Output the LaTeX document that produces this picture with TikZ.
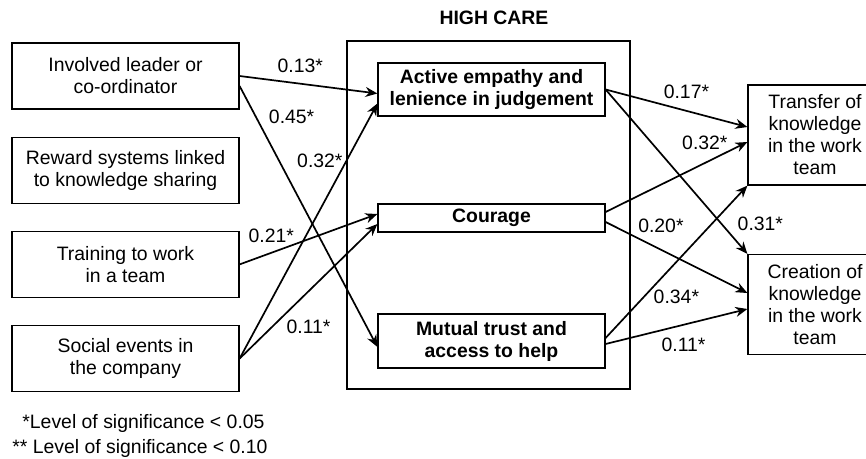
\documentclass[tikz,border=0pt]{standalone}
\usepackage{fontspec}
\setmainfont{Liberation Sans}
\usetikzlibrary{arrows.meta,positioning}
\tikzset{
    factorbox/.style={
        draw,
        line width=0.6pt,
        align=center,
        font=\fontsize{9.7}{11}\selectfont,
        inner sep=2pt,
        minimum width=113.5pt,
        minimum height=33pt
    },
    carebox/.style={
        draw,
        line width=0.6pt,
        align=center,
        font=\fontsize{9.7}{11}\selectfont\bfseries,
        inner sep=2pt,
        minimum width=113.5pt
    },
    highcare/.style={
        draw,
        line width=1.1pt,
        minimum width=141.5pt,
        minimum height=174pt
    },
    outcomebox/.style={
        draw,
        line width=0.6pt,
        align=center,
        font=\fontsize{9.7}{11}\selectfont,
        inner sep=2pt,
        minimum width=67pt,
        minimum height=50pt
    },
    effect/.style={
        -{Stealth[length=6pt,width=5pt]},
        line width=0.85pt
    },
    coef/.style={
        font=\fontsize{9.7}{11}\selectfont,
        inner sep=1.5pt
    }
}

\begin{document}
\begin{tikzpicture}[x=0.5pt, y=-0.5pt, node distance=13.5pt]
        \useasboundingbox (0,0) rectangle (866,459);
        \clip (0,0) rectangle (866,459);

        \node[factorbox] (leader) at (125.5,76) {Involved leader or\\co-ordinator};
        \node[factorbox, below=of leader] (reward) {Reward systems linked\\to knowledge sharing};
        \node[factorbox, below=of reward] (training) {Training to work\\in a team};
        \node[factorbox, below=of training] (social) {Social events in\\the company};

        \node[highcare] (care) at (488.5,215) {};
        \node[font=\fontsize{9.7}{11}\selectfont\bfseries] (title) at (494,18) {HIGH CARE};

        \node[carebox, minimum height=26.5pt] (empathy) at (491.5,89.5) {Active empathy and\\lenience in judgement};
        \node[carebox, minimum height=14pt] (courage) at (491.5,218) {Courage};
        \node[carebox, minimum height=27pt] (trust) at (491.5,341) {Mutual trust and\\access to help};

        \node[outcomebox] (transfer) at (815,135) {Transfer of\\knowledge\\in the work\\team};
        \node[outcomebox] (creation) at (815,304.5) {Creation of\\knowledge\\in the work\\team};

        \draw[effect] (leader.east) -- node[coef, above=3.5pt, pos=0.44] {0.13*} ([yshift=-2pt]empathy.west);
        \draw[effect] ([yshift=-5pt]leader.east) -- node[coef, right=4.5pt, pos=0.12] {0.45*} ([yshift=-3pt]trust.west);
        \draw[effect] (social.east) -- node[coef, left=0pt, pos=0.775] {0.32*} ([yshift=-7pt]empathy.west);
        \draw[effect] (training.east) -- node[coef, above=3pt, pos=0.23] {0.21*} ([yshift=2pt]courage.west);
        \draw[effect] (social.east) -- node[coef, below=12.5pt, pos=0.5] {0.11*} ([yshift=-3pt]courage.west);

        \draw[effect] (empathy.east) -- node[coef, above=4pt, pos=0.57] {0.17*} ([yshift=4pt]transfer.west);
        \draw[effect] (empathy.east) -- node[coef, right=6pt, pos=0.82] {0.31*} (creation.north west);
        \draw[effect] ([yshift=3pt]courage.east) -- node[coef, above=4.5pt, pos=0.7] {0.32*} ([yshift=-3.5pt]transfer.west);
        \draw[effect] ([yshift=-2pt]courage.east) -- node[coef, above=6.5pt, pos=0.39] {0.20*} ([yshift=5.75pt]creation.west);
        \draw[effect] ([yshift=1.5pt]trust.east) -- node[coef, right=3pt, pos=0.27] {0.34*} (transfer.south west);
        \draw[effect] ([yshift=-1.5pt]trust.east) -- node[coef, below=4.5pt, pos=0.55] {0.11*} ([yshift=-2.25pt]creation.west);

        \node[coef, anchor=west] (note1) at (19,423) {*Level of significance < 0.05};
        \node[coef, anchor=west] (note2) at (9,448) {** Level of significance < 0.10};
    \end{tikzpicture}
\end{document}
